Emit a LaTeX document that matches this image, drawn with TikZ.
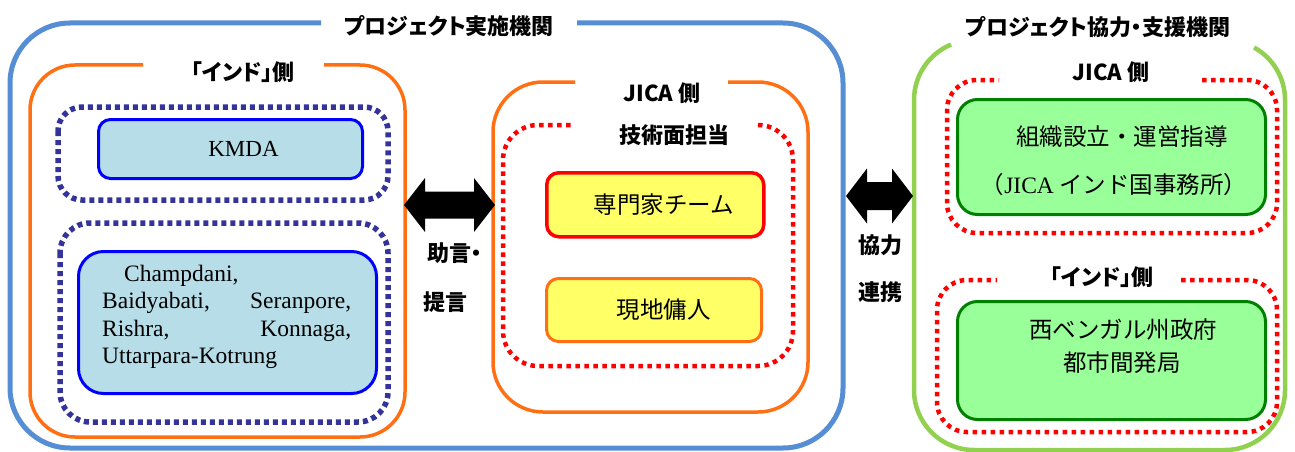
\documentclass[tikz,border=0pt]{standalone}
\usepackage{fontspec}
\usetikzlibrary{calc}
\setmainfont{Liberation Serif}
\newfontfamily\jp{Noto Sans CJK JP}
\newfontfamily\jpt{Noto Sans CJK JP}[RawFeature={+palt}]
\definecolor{bluec}{HTML}{558ED5}
\definecolor{orangec}{HTML}{FF7014}
\definecolor{greenc}{HTML}{92D050}
\definecolor{navyc}{HTML}{333399}
\definecolor{kfill}{HTML}{B7DDE8}
\definecolor{kdraw}{HTML}{0000FF}
\definecolor{yfill}{HTML}{FFFF66}
\definecolor{gfill}{HTML}{99FF99}
\definecolor{gdraw}{HTML}{008000}
\definecolor{redc}{HTML}{FF0000}
\begin{document}
\begin{tikzpicture}[x=1pt,y=-1pt,
  title/.style={font=\jpt\bfseries\fontsize{22}{26}\selectfont, inner sep=0pt},
  jtext/.style={font=\jp\fontsize{23.5}{28}\selectfont, inner sep=0pt},
  rtext/.style={font=\fontsize{23.5}{27.3}\selectfont, inner sep=0pt},
  blueline/.style={draw=bluec, line width=5pt},
  orangeline/.style={draw=orangec, line width=3.5pt},
  greenline/.style={draw=greenc, line width=4.5pt},
  navydot/.style={draw=navyc, line width=5.5pt, dash pattern=on 5pt off 4pt},
  reddot/.style={draw=redc, line width=4.5pt, dash pattern=on 4.5pt off 4.5pt},
  inbox/.style={rectangle, rounded corners=12pt, line width=3pt, inner sep=0pt, anchor=north west},
  blockarrow/.style={fill=black}
]
\useasboundingbox (0,0) rectangle (1295,452);

% ---- containers ----
\draw[blueline, rounded corners=60pt] (577,23) -- (843,23) -- (843,448) -- (10,448) -- (10,23) -- (321,23);
\draw[orangeline, rounded corners=45pt] (324,65) -- (405,65) -- (405,437) -- (30,437) -- (30,65) -- (143,65);
\draw[navydot, rounded corners=24pt] (58,107) rectangle (388,200);
\draw[navydot, rounded corners=30pt] (60,223) rectangle (388,422);
\draw[orangeline, rounded corners=50pt] (728,82) -- (808,82) -- (808,412) -- (493,412) -- (493,82) -- (575,82);
\draw[reddot, rounded corners=35pt] (758,125) -- (793,125) -- (793,366) -- (503,366) -- (503,125) -- (572,125);
\draw[greenline] (1254.1,47.5) arc[start angle=-61, end angle=0, radius=60] -- (1285,390)
  arc[start angle=0, end angle=90, radius=60] -- (974,450)
  arc[start angle=90, end angle=180, radius=60] -- (914,100)
  arc[start angle=180, end angle=247.5, radius=60];
\draw[reddot, rounded corners=30pt] (1202,80) -- (1277,80) -- (1277,233) -- (947,233) -- (947,80) -- (999,80);
\draw[reddot, rounded corners=30pt] (1181,280) -- (1277,280) -- (1277,432) -- (937,432) -- (937,280) -- (997,280);

% ---- inner boxes ----
\node[inbox, fill=kfill, draw=kdraw, minimum width=264pt, minimum height=59pt, font=\fontsize{23}{27}\selectfont] (kmda) at (97,118) {\hspace*{26pt}KMDA};
\node[inbox, rounded corners=25pt, fill=kfill, draw=kdraw, minimum width=298pt, minimum height=142pt] (towns) at (77,250) {};
\node[rtext, anchor=north west, text width=249pt, align=left] (townstext) at (102,265)
  {\hspace*{22pt}Champdani,\\ Baidyabati,\hfill Seranpore,\\ Rishra,\hfill Konnaga,\\ Uttarpara-Kotrung};

\node[inbox, fill=yfill, draw=redc, line width=3.5pt, minimum width=217pt, minimum height=64pt, font=\jp\fontsize{23.5}{28}\selectfont] (senmon) at (545,171) {\hspace*{17pt}専門家チーム};
\node[inbox, fill=yfill, draw=orangec, minimum width=215pt, minimum height=63pt, font=\jp\fontsize{23.5}{28}\selectfont] (genchi) at (545,277) {\hspace*{19pt}現地傭人};

\node[inbox, rounded corners=20pt, fill=gfill, draw=gdraw, minimum width=308pt, minimum height=115pt] (soshiki) at (956,98) {};
\node[jtext] (soshiki1) at (1122,137) {組織設立・運営指導};
\node[jtext] (soshiki2) at (1114,185) {（{\rmfamily JICA} インド国事務所）};

\node[inbox, rounded corners=20pt, fill=gfill, draw=gdraw, minimum width=308pt, minimum height=118pt] (wb) at (956,300) {};
\node[jtext] (wb1) at (1123,330) {西ベンガル州政府};
\node[jtext] (wb2) at (1122,363) {都市間発局};

% ---- titles ----
\node[title] (t1) at (449,26) {プロジェクト実施機関};
\node[title] (t2) at (243,72) {「インド」側};
\node[title] (t3) at (662,93) {JICA 側};
\node[title] (t4) at (674,135) {技術面担当};
\node[title, anchor=west] (t5) at (427,253) {助言・};
\node[title, anchor=west] (t6) at (423,302) {提言};
\node[title, anchor=west] (t7) at (858,245) {協力};
\node[title, anchor=west] (t8) at (858,292) {連携};
\node[title] (t9) at (1098,27) {プロジェクト協力・支援機関};
\node[title] (t10) at (1111,72) {JICA 側};
\node[title] (t11) at (1102,277) {「インド」側};

% ---- block arrows ----
\coordinate (a1l) at (404,205);
\coordinate (a1r) at (495,205);
\fill[blockarrow] (a1l) -- ++(21,-27) -- ++(0,13.5) -- ($(a1r)+(-21,-13.5)$) -- ++(0,-13.5) -- (a1r)
  -- ++(-21,27) -- ++(0,-13.5) -- ($(a1l)+(21,13.5)$) -- ++(0,13.5) -- cycle;
\coordinate (a2l) at (846,196);
\coordinate (a2r) at (913,196);
\fill[blockarrow] (a2l) -- ++(21,-27.5) -- ++(0,13.5) -- ($(a2r)+(-21,-14)$) -- ++(0,-13.5) -- (a2r)
  -- ++(-21,27.5) -- ++(0,-13.5) -- ($(a2l)+(21,14)$) -- ++(0,13.5) -- cycle;
\end{tikzpicture}
\end{document}
